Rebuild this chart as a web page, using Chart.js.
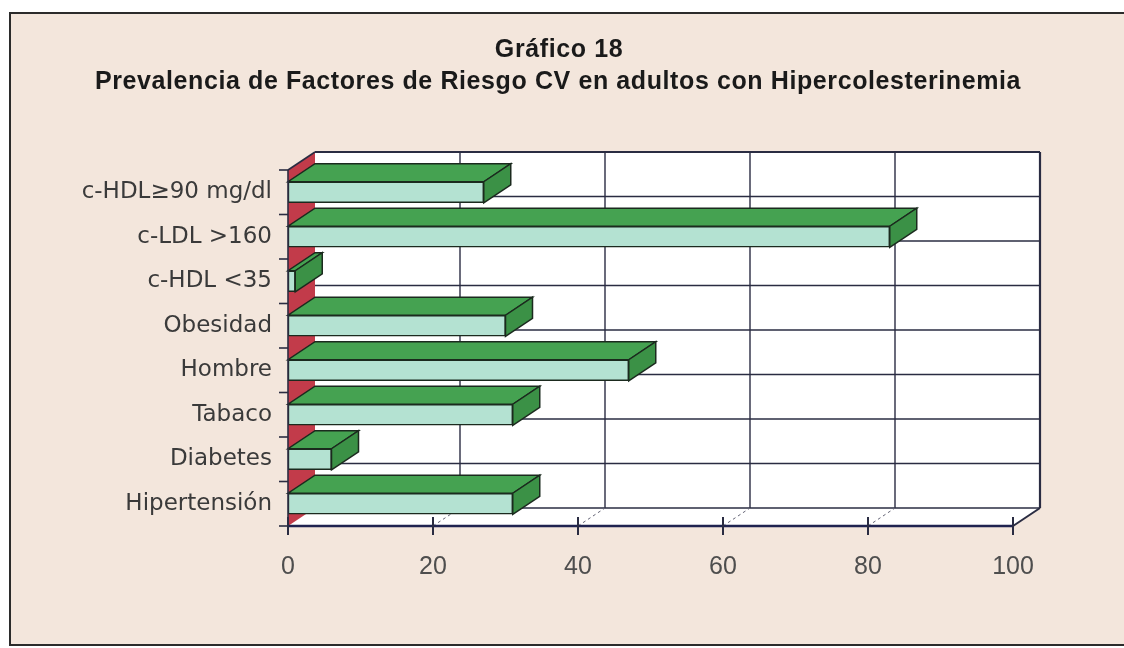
<!DOCTYPE html>
<html>
<head>
<meta charset="utf-8">
<script src="https://cdn.jsdelivr.net/npm/chart.js@4.4.1/dist/chart.umd.min.js"></script>
<style>
  html, body { margin: 0; padding: 0; background: #ffffff; }
  #wrap { width: 1124px; height: 648px; }
</style>
</head>
<body>
<div id="wrap"><canvas id="c" width="1124" height="648"></canvas></div>
<script>
// ---- data ----
const titleLines = ['Gráfico 18', 'Prevalencia de Factores de Riesgo CV en adultos con Hipercolesterinemia'];
const categories = ['c-HDL≥90 mg/dl', 'c-LDL >160', 'c-HDL <35', 'Obesidad', 'Hombre', 'Tabaco', 'Diabetes', 'Hipertensión'];
const prevalence = [27, 83, 1, 30, 47, 31, 6, 31];
const xTicks = [0, 20, 40, 60, 80, 100];

// ---- style ----
const DX = 27, DY = -18;           // 3D depth offset
const LINE = '#2a2c42';
const PAGE_BG = '#f3e6dc';

function poly(ctx, pts, fill, stroke, lw) {
  ctx.beginPath();
  ctx.moveTo(pts[0][0], pts[0][1]);
  for (let i = 1; i < pts.length; i++) ctx.lineTo(pts[i][0], pts[i][1]);
  ctx.closePath();
  if (fill) { ctx.fillStyle = fill; ctx.fill(); }
  if (stroke) { ctx.strokeStyle = stroke; ctx.lineWidth = lw || 1; ctx.stroke(); }
}
function line(ctx, x1, y1, x2, y2, color, lw, dash) {
  ctx.beginPath();
  ctx.setLineDash(dash || []);
  ctx.moveTo(x1, y1); ctx.lineTo(x2, y2);
  ctx.strokeStyle = color; ctx.lineWidth = lw; ctx.stroke();
  ctx.setLineDash([]);
}

const depthPlugin = {
  id: 'depth3d',
  beforeDraw(chart) {
    const ctx = chart.ctx;
    ctx.save();
    ctx.fillStyle = '#ffffff';
    ctx.fillRect(0, 0, chart.width, chart.height);
    ctx.fillStyle = PAGE_BG;
    ctx.fillRect(10, 13, chart.width - 10, 632);
    ctx.beginPath();
    ctx.moveTo(chart.width, 13); ctx.lineTo(10, 13); ctx.lineTo(10, 645); ctx.lineTo(chart.width, 645);
    ctx.strokeStyle = '#2b2b2b'; ctx.lineWidth = 2; ctx.stroke();
    // title
    ctx.fillStyle = '#1a1a1a';
    ctx.textAlign = 'center';
    ctx.textBaseline = 'alphabetic';
    ctx.font = 'bold 25px "Liberation Sans", Arial, sans-serif';
    if ('letterSpacing' in ctx) ctx.letterSpacing = '0.6px';
    ctx.fillText(titleLines[0], 559, 57);
    ctx.fillText(titleLines[1], 558, 89, 932);
    if ('letterSpacing' in ctx) ctx.letterSpacing = '0px';
    ctx.restore();
  },
  beforeDatasetsDraw(chart) {
    const { ctx, chartArea: a, scales: { x } } = chart;
    const x0 = x.getPixelForValue(0), x1 = x.getPixelForValue(100);
    const n = categories.length;
    const band = (a.bottom - a.top) / n;
    ctx.save();
    // back wall
    poly(ctx, [[x0 + DX, a.top + DY], [x1 + DX, a.top + DY], [x1 + DX, a.bottom + DY], [x0 + DX, a.bottom + DY]], '#ffffff');
    // floor
    poly(ctx, [[x0, a.bottom], [x1, a.bottom], [x1 + DX, a.bottom + DY], [x0 + DX, a.bottom + DY]], '#ffffff');
    // left wall
    poly(ctx, [[x0, a.top], [x0 + DX, a.top + DY], [x0 + DX, a.bottom + DY], [x0, a.bottom]], '#c23b4a');
    // back wall horizontal grid
    for (let k = 0; k <= n; k++) {
      const yy = a.top + k * band + DY;
      line(ctx, x0 + DX, yy, x1 + DX, yy, LINE, k === 0 ? 2.2 : 1.6);
    }
    // back wall vertical grid + floor diagonals
    xTicks.forEach(v => {
      const px = x.getPixelForValue(v);
      if (v > 0 && v < 100) {
        line(ctx, px + DX, a.top + DY, px + DX, a.bottom + DY, LINE, 1.4);
        line(ctx, px, a.bottom, px + DX, a.bottom + DY, '#666677', 1, [3, 3]);
      }
    });
    // right edges
    line(ctx, x1 + DX, a.top + DY, x1 + DX, a.bottom + DY, LINE, 2.2);
    line(ctx, x1, a.bottom, x1 + DX, a.bottom + DY, LINE, 2);
    // left wall top edge
    line(ctx, x0, a.top, x0 + DX, a.top + DY, LINE, 1.6);
    // bar top + side faces
    const meta = chart.getDatasetMeta(0);
    meta.data.forEach(el => {
      const p = el.getProps(['x', 'y', 'base', 'height'], true);
      const top = p.y - p.height / 2, bot = p.y + p.height / 2;
      poly(ctx, [[p.base, top], [p.x, top], [p.x + DX, top + DY], [p.base + DX, top + DY]], '#45a251', '#1b2a1e', 1.5);
      poly(ctx, [[p.x, top], [p.x + DX, top + DY], [p.x + DX, bot + DY], [p.x, bot]], '#3b9146', '#1b2a1e', 1.5);
    });
    ctx.restore();
  },
  afterDatasetsDraw(chart) {
    const { ctx, chartArea: a, scales: { x } } = chart;
    const x0 = x.getPixelForValue(0), x1 = x.getPixelForValue(100);
    const n = categories.length;
    const band = (a.bottom - a.top) / n;
    ctx.save();
    // left front edge
    line(ctx, x0, a.top, x0, a.bottom, LINE, 1.6);
    // y tick marks
    for (let k = 0; k <= n; k++) {
      const yy = a.top + k * band;
      line(ctx, x0 - 9, yy, x0, yy, LINE, 1.6);
    }
    // front axis line
    line(ctx, x0, a.bottom, x1, a.bottom, '#1f2350', 2.6);
    xTicks.forEach(v => {
      const px = x.getPixelForValue(v);
      line(ctx, px, a.bottom - 9, px, a.bottom + 9, LINE, 2);
    });
    ctx.restore();
  }
};

new Chart(document.getElementById('c'), {
  type: 'bar',
  data: {
    labels: categories,
    datasets: [{
      data: prevalence,
      backgroundColor: '#b4e2d2',
      borderColor: '#1b2a1e',
      borderWidth: 1.5,
      borderSkipped: false,
      barThickness: 21
    }]
  },
  options: {
    indexAxis: 'y',
    responsive: false,
    devicePixelRatio: 1,
    animation: false,
    layout: { padding: { top: 170, right: 111, bottom: 0, left: 0 } },
    plugins: { legend: { display: false }, title: { display: false }, tooltip: { enabled: false } },
    scales: {
      x: {
        type: 'linear', min: 0, max: 100,
        afterBuildTicks: s => { s.ticks = xTicks.map(v => ({ value: v })); },
        afterFit: s => { s.height = 122; },
        grid: { display: false, drawTicks: false },
        border: { display: false },
        ticks: { color: '#4e4e4e', padding: 26, font: { family: 'Liberation Sans', size: 25 } }
      },
      y: {
        type: 'category',
        afterFit: s => { s.width = 288; },
        grid: { display: false, drawTicks: false },
        border: { display: false },
        ticks: { color: '#3a3a3a', padding: 16, font: { family: 'DejaVu Sans', size: 23 } }
      }
    }
  },
  plugins: [depthPlugin]
});
</script>
</body>
</html>
